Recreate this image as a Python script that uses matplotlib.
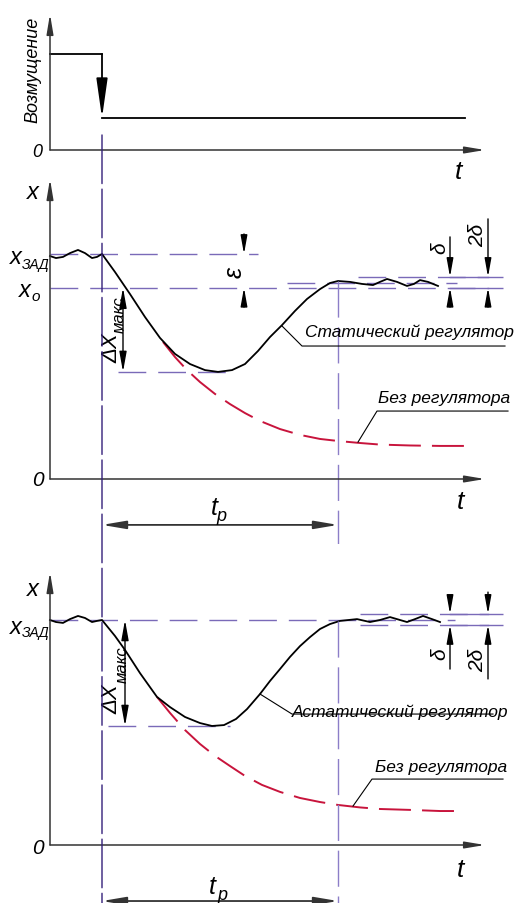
import matplotlib.pyplot as plt
from matplotlib.patches import ConnectionPatch

plt.rcParams['font.family'] = ['Liberation Sans', 'DejaVu Sans']
plt.rcParams['font.style'] = 'italic'
plt.rcParams['lines.scale_dashes'] = False

# time axis (same for all three panels)
t_step = 5.2      # moment of disturbance
t_reg = 28.8      # end of regulation time t_p
t_end = 41.5

# disturbance
dist_t = [0, t_step, t_step, t_end]
dist_v = [3, 3, 1, 1]

# static regulator
stat_t = [0, 0.6, 1.3, 2.0, 2.8, 3.5, 4.2, 4.7, 5.2, 6.5, 8.0, 9.5, 11.0, 12.5, 14.0, 15.5,
          16.8, 18.2, 19.5, 20.8, 22.0, 23.2, 24.5, 25.7, 27.0, 28.0, 28.8, 30.0, 31.2, 32.3,
          33.0, 33.7, 34.7, 35.7, 36.4, 37.0, 37.8, 38.8]
stat_x = [99.1, 98.2, 98.7, 100.4, 101.8, 100.4, 98.2, 98.7, 100.0, 92.0, 82.2, 72.0, 62.7,
          55.6, 51.1, 48.4, 47.6, 48.4, 51.1, 56.9, 63.1, 68.4, 74.7, 80.0, 84.4, 87.1, 88.0,
          87.6, 86.7, 86.2, 87.6, 88.9, 87.6, 85.8, 86.7, 88.4, 87.6, 85.8]
free1_t = [11.3, 12.5, 13.7, 15.0, 16.5, 18.0, 19.5, 21.0, 23.0, 25.0, 27.0, 28.8, 31.0, 33.0,
           36.0, 39.0, 41.5]
free1_x = [60.9, 54.2, 48.4, 43.1, 37.8, 33.3, 29.3, 25.8, 22.2, 19.6, 17.8, 16.9, 16.0, 15.3,
           14.9, 14.7, 14.7]
stat_levels = {'zad': 100, 'o': 85, 'hi': 89.8, 'mid': 87.1, 'min': 47.6}

# astatic regulator
ast_t = [0, 0.6, 1.3, 2.0, 2.8, 3.5, 4.2, 4.7, 5.2, 6.5, 7.5, 9.0, 10.7, 12.0, 13.5, 15.0, 16.2,
         17.4, 18.6, 19.7, 21.0, 22.0, 23.0, 24.0, 25.0, 26.0, 27.0, 28.0, 29.0, 30.7, 32.0,
         33.0, 34.0, 35.0, 35.7, 36.5, 37.3, 38.2, 39.0]
ast_x = [100.0, 99.1, 98.7, 100.4, 101.8, 100.9, 99.1, 99.6, 100.0, 92.9, 86.7, 76.4, 65.8,
         61.3, 56.9, 54.2, 52.9, 53.3, 56.0, 60.4, 67.1, 72.9, 78.2, 83.6, 88.4, 92.4, 96.0,
         98.2, 99.6, 100.4, 99.1, 100.0, 101.3, 100.0, 99.1, 100.4, 101.8, 100.4, 99.1]
free2_t = [10.7, 12.0, 13.5, 15.0, 16.5, 18.0, 19.5, 21.2, 23.0, 25.0, 27.0, 28.8, 31.0, 33.0,
           36.0, 39.0, 41.5]
free2_x = [65.8, 58.7, 51.1, 44.9, 39.6, 35.1, 30.7, 26.7, 23.6, 20.9, 19.1, 17.8, 16.7, 16.0,
           15.6, 15.1, 15.1]
ast_levels = {'zad': 100, 'hi': 102.7, 'lo': 97.8, 'min': 52.9}

PURPLE = '#7a6ab8'
DARK_PURPLE = '#34207a'
LIGHT_PURPLE = '#8c7ec8'
RED = '#c8143c'
AXIS = '#333333'

fig = plt.figure(figsize=(5.2, 9.04), dpi=100)
H = 904.0


def band(top, bottom):
    return [0, 1 - bottom / H, 1, (bottom - top) / H]


ax_top = fig.add_axes(band(0, 165))
ax_mid = fig.add_axes(band(165, 545))
ax_bot = fig.add_axes(band(545, 904))
ax_top.set_ylim(-0.4375, 4.71875)
ax_mid.set_ylim(-28.89, 140.0)
ax_bot.set_ylim(-25.78, 133.78)
for ax in (ax_top, ax_mid, ax_bot):
    ax.set_xlim(-5, 47)
    ax.set_axis_off()


def arrow(ax, tail, tip, style='-|>', hl=0.8, hw=0.2, ms=14, lw=1.0, color='black'):
    ax.annotate('', xy=tip, xytext=tail,
                arrowprops=dict(arrowstyle=f'{style},head_length={hl},head_width={hw}',
                                mutation_scale=ms, lw=lw, color=color,
                                shrinkA=0, shrinkB=0), annotation_clip=False)


def axes_arrows(ax, ytop):
    arrow(ax, (0, 0), (0, ytop), hl=1.2, hw=0.2, ms=10, lw=1.1, color=AXIS)
    arrow(ax, (0, 0), (43.5, 0), hl=1.2, hw=0.2, ms=10, lw=1.1, color=AXIS)


def dashed(ax, y, t0, t1, solid=None):
    ax.plot([t0, t1], [y, y], color=PURPLE, lw=1.0, dashes=(20, 8.6), clip_on=False)
    if solid:
        ax.plot(solid, [y, y], color=PURPLE, lw=1.0, clip_on=False)


def label(ax, t, x, s, size, **kw):
    ax.text(t, x, s, fontsize=size, ha=kw.pop('ha', 'center'), va=kw.pop('va', 'center'),
            clip_on=False, **kw)


# ---- top panel: disturbance
axes_arrows(ax_top, 4.25)
ax_top.plot(dist_t[:2], dist_v[:2], color='black', lw=1.3)
ax_top.plot(dist_t[2:], dist_v[2:], color='black', lw=1.3)
arrow(ax_top, (dist_t[1], dist_v[1]), (dist_t[2], dist_v[2]), hl=1.2, hw=0.17, ms=20, lw=1.3)
label(ax_top, -1.7, 2.53, 'Возмущение', 13, rotation=90)
label(ax_top, -1.25, -0.06, '0', 13)
label(ax_top, 40.8, -0.66, 't', 19)

# ---- middle panel: static regulator
axes_arrows(ax_mid, 133.3)
lv = stat_levels
dashed(ax_mid, lv['zad'], 0, 20.8)
dashed(ax_mid, lv['o'], 0, 45.3, solid=[40, 43.8])
dashed(ax_mid, lv['hi'], 30.8, 45.3, solid=[40, 43.8])
dashed(ax_mid, lv['mid'], 23.7, 40.7)
dashed(ax_mid, lv['min'], 6.8, 18.0)
ax_mid.plot(free1_t, free1_x, color=RED, lw=1.4, dashes=(23, 8))
ax_mid.plot(stat_t, stat_x, color='black', lw=1.3)
ax_mid.add_line(plt.Line2D([t_reg, t_reg], [88.0, -28.89], color=LIGHT_PURPLE, lw=1.0,
                           dashes=(26, 7)))
arrow(ax_mid, (7.3, 66), (7.3, lv['o']), hl=1.0, hw=0.18, ms=12)
arrow(ax_mid, (7.3, 66), (7.3, lv['min']), hl=1.0, hw=0.18, ms=12)
arrow(ax_mid, (19.4, 108.9), (19.4, lv['zad']), hl=1.0, hw=0.18, ms=11)
arrow(ax_mid, (19.4, 76.4), (19.4, lv['o']), hl=1.0, hw=0.18, ms=11)
arrow(ax_mid, (40.0, 107.6), (40.0, lv['hi']), hl=1.0, hw=0.18, ms=11)
arrow(ax_mid, (40.0, 76.4), (40.0, lv['o']), hl=1.0, hw=0.18, ms=11)
arrow(ax_mid, (43.8, 115.6), (43.8, lv['hi']), hl=1.0, hw=0.18, ms=11)
arrow(ax_mid, (43.8, 76.4), (43.8, lv['o']), hl=1.0, hw=0.18, ms=11)
arrow(ax_mid, (t_step, -20.4), (t_reg, -20.4), style='<|-|>', hl=1.3, hw=0.22, ms=11,
      lw=1.3, color=AXIS)

label(ax_mid, -1.7, 127.6, 'x', 17)
label(ax_mid, -3.45, 98.7, 'x', 17)
label(ax_mid, -1.4, 95.6, 'ЗАД', 10)
label(ax_mid, -2.55, 84.0, 'x', 17)
label(ax_mid, -1.4, 81.3, 'o', 11)
label(ax_mid, -1.25, -0.4, '0', 15)
label(ax_mid, 41.0, -10.0, 't', 19)
label(ax_mid, 6.15, 58.7, 'ΔX', 16, rotation=90)
label(ax_mid, 6.95, 73.5, 'макс', 12, rotation=90)
label(ax_mid, 18.5, 92.4, 'ε', 18, rotation=90)
label(ax_mid, 39.0, 103.1, 'δ', 15, rotation=90)
label(ax_mid, 42.8, 108.9, '2δ', 15, rotation=90)
label(ax_mid, 16.4, -12.4, 't', 18)
label(ax_mid, 17.1, -16.4, 'p', 13)
ax_mid.plot([23.2, 25.2, 45.5], [68.0, 59.1, 59.1], color='black', lw=0.8, clip_on=False)
label(ax_mid, 25.5, 65.8, 'Статический регулятор', 12.5, ha='left')
ax_mid.plot([30.8, 32.7, 45.8], [16.4, 30.2, 30.2], color='black', lw=0.8, clip_on=False)
label(ax_mid, 32.8, 36.4, 'Без регулятора', 12.5, ha='left')

# ---- bottom panel: astatic regulator
axes_arrows(ax_bot, 121.3)
lv = ast_levels
dashed(ax_bot, lv['zad'], 0, 40.5)
dashed(ax_bot, lv['hi'], 31.0, 45.3, solid=[40, 43.8])
dashed(ax_bot, lv['lo'], 31.0, 45.3, solid=[40, 43.8])
dashed(ax_bot, lv['min'], 5.8, 18.0)
ax_bot.plot(free2_t, free2_x, color=RED, lw=1.4, dashes=(23, 8))
ax_bot.plot(ast_t, ast_x, color='black', lw=1.3)
ax_bot.add_line(plt.Line2D([t_reg, t_reg], [99.6, -25.78], color=LIGHT_PURPLE, lw=1.0,
                           dashes=(26, 7)))
arrow(ax_bot, (7.5, 76), (7.5, lv['zad']), hl=1.0, hw=0.18, ms=12)
arrow(ax_bot, (7.5, 76), (7.5, lv['min']), hl=1.0, hw=0.18, ms=12)
arrow(ax_bot, (40.0, 110.2), (40.0, lv['hi']), hl=1.0, hw=0.18, ms=11)
arrow(ax_bot, (40.0, 78.2), (40.0, lv['lo']), hl=1.0, hw=0.18, ms=11)
arrow(ax_bot, (43.8, 112.4), (43.8, lv['hi']), hl=1.0, hw=0.18, ms=11)
arrow(ax_bot, (43.8, 73.8), (43.8, lv['lo']), hl=1.0, hw=0.18, ms=11)
arrow(ax_bot, (t_step, -24.9), (t_reg, -24.9), style='<|-|>', hl=1.3, hw=0.22, ms=11,
      lw=1.3, color=AXIS)

label(ax_bot, -1.7, 113.8, 'x', 17)
label(ax_bot, -3.45, 97.3, 'x', 17)
label(ax_bot, -1.4, 94.7, 'ЗАД', 10)
label(ax_bot, -1.25, -1.3, '0', 15)
label(ax_bot, 41.0, -10.7, 't', 19)
label(ax_bot, 6.2, 65.3, 'ΔX', 16, rotation=90)
label(ax_bot, 7.25, 80.5, 'макс', 12, rotation=90)
label(ax_bot, 39.0, 85.3, 'δ', 15, rotation=90)
label(ax_bot, 42.8, 82.7, '2δ', 15, rotation=90)
label(ax_bot, 16.25, -18.2, 't', 18)
label(ax_bot, 17.2, -21.8, 'p', 13)
ax_bot.plot([21.0, 24.2, 44.3], [67.1, 58.2, 58.2], color='black', lw=0.8, clip_on=False)
label(ax_bot, 24.2, 59.6, 'Астатический регулятор', 12.5, ha='left')
ax_bot.plot([30.3, 32.2, 45.3], [17.3, 29.3, 29.3], color='black', lw=0.8, clip_on=False)
label(ax_bot, 32.5, 34.7, 'Без регулятора', 12.5, ha='left')

# disturbance moment, through all panels
vline = ConnectionPatch(xyA=(t_step, 0.47), coordsA=ax_top.transData,
                        xyB=(t_step, -25.78), coordsB=ax_bot.transData,
                        color=DARK_PURPLE, lw=1.0, linestyle=(0, (35, 4)))
fig.add_artist(vline)

plt.savefig('out.png', dpi=100)
